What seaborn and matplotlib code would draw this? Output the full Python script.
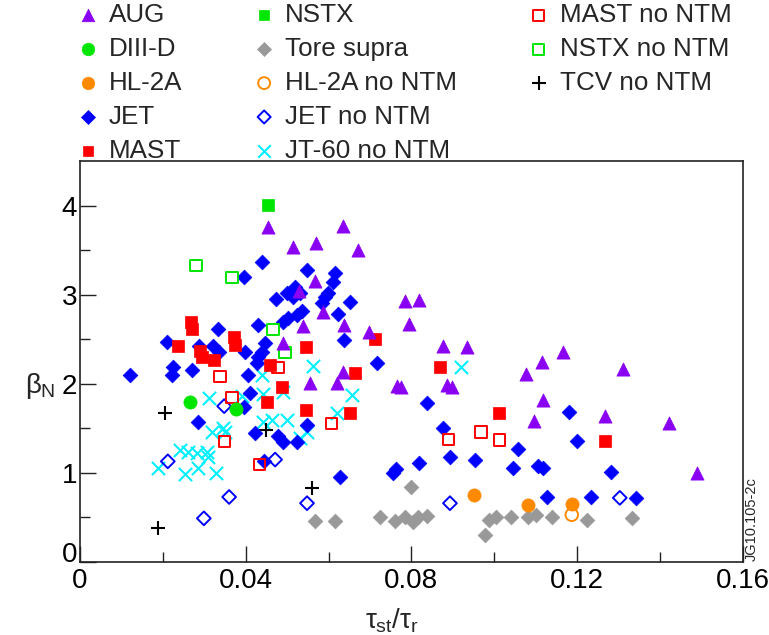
import matplotlib
matplotlib.use('Agg')
import matplotlib.pyplot as plt
from matplotlib.lines import Line2D
import matplotlib.transforms as mtransforms
import seaborn as sns

# データ
aug_x = [0.0454, 0.0635, 0.0514, 0.0569, 0.0671, 0.0567, 0.0528, 0.0586, 0.0538, 0.0637,
         0.0697, 0.0490, 0.0784, 0.0818, 0.0794, 0.0876, 0.0934, 0.0635, 0.0555, 0.0620,
         0.0765, 0.0775, 0.0886, 0.0898, 0.1076, 0.1115, 0.1166, 0.1310, 0.1117, 0.1096,
         0.1267, 0.1421, 0.1489]
aug_y = [3.76, 3.77, 3.54, 3.58, 3.50, 3.15, 3.04, 2.81, 2.65, 2.66,
         2.58, 2.46, 2.93, 2.94, 2.67, 2.42, 2.41, 2.13, 2.01, 2.01,
         1.98, 1.96, 1.99, 1.97, 2.11, 2.25, 2.36, 2.17, 1.82, 1.58,
         1.64, 1.56, 1.00]

diiid_x = [0.0265, 0.0376]
diiid_y = [1.80, 1.72]

hl2a_x = [0.0951, 0.1081, 0.1187]
hl2a_y = [0.75, 0.64, 0.65]
hl2a_no_x = [0.1187]
hl2a_no_y = [0.53]

jet_x = [0.0121, 0.0210, 0.0224, 0.0222, 0.0270, 0.0287, 0.0321, 0.0335, 0.0333, 0.0398,
         0.0405, 0.0430, 0.0446, 0.0439, 0.0430, 0.0427, 0.0439, 0.0396, 0.0473, 0.0548,
         0.0615, 0.0610, 0.0500, 0.0519, 0.0514, 0.0531, 0.0591, 0.0584, 0.0598, 0.0652,
         0.0623, 0.0536, 0.0524, 0.0502, 0.0490, 0.0637, 0.0717, 0.0410, 0.0396, 0.0285,
         0.0422, 0.0478, 0.0490, 0.0524, 0.0548, 0.0444, 0.0627, 0.0837, 0.0876, 0.0893,
         0.0818, 0.0763, 0.0755, 0.0953, 0.1045, 0.1057, 0.1105, 0.1117, 0.1180, 0.1200,
         0.1281, 0.1127, 0.1233, 0.1342]
jet_y = [2.10, 2.47, 2.19, 2.10, 2.16, 2.43, 2.42, 2.36, 2.62, 2.36,
         2.10, 2.66, 2.46, 2.36, 2.30, 2.24, 3.37, 3.20, 2.95, 3.28,
         3.24, 3.14, 3.02, 3.09, 2.98, 3.02, 2.98, 2.91, 3.02, 2.92,
         2.79, 2.82, 2.77, 2.74, 2.69, 2.49, 2.24, 1.90, 1.74, 1.57,
         1.45, 1.42, 1.35, 1.35, 1.54, 1.13, 0.95, 1.79, 1.50, 1.18,
         1.11, 1.04, 1.00, 1.15, 1.05, 1.27, 1.08, 1.05, 1.68, 1.36,
         1.01, 0.73, 0.73, 0.72]

jet_no_x = [0.0348, 0.0471, 0.0212, 0.0360, 0.0299, 0.0548, 0.0893, 0.1303]
jet_no_y = [1.75, 1.15, 1.13, 0.73, 0.49, 0.66, 0.66, 0.72]

mast_x = [0.0268, 0.0270, 0.0236, 0.0372, 0.0374, 0.0290, 0.0294, 0.0323, 0.0458, 0.0712,
          0.0545, 0.0664, 0.0487, 0.0451, 0.0545, 0.0652, 0.0869, 0.1011, 0.1267]
mast_y = [2.69, 2.62, 2.42, 2.53, 2.44, 2.37, 2.30, 2.27, 2.21, 2.50,
          2.41, 2.12, 1.96, 1.80, 1.71, 1.67, 2.19, 1.67, 1.36]

mast_no_x = [0.0338, 0.0478, 0.0367, 0.0348, 0.0434, 0.0608, 0.0890, 0.0968, 0.1013]
mast_no_y = [2.08, 2.18, 1.85, 1.35, 1.09, 1.56, 1.38, 1.46, 1.37]

nstx_x = [0.0454]
nstx_y = [4.01]
nstx_no_x = [0.0280, 0.0367, 0.0466, 0.0495]
nstx_no_y = [3.33, 3.19, 2.61, 2.35]

tore_x = [0.0567, 0.0615, 0.0724, 0.0760, 0.0784, 0.0804, 0.0816, 0.0837, 0.0799, 0.0987,
          0.1004, 0.1040, 0.1081, 0.1100, 0.1139, 0.1224, 0.1332, 0.0977]
tore_y = [0.46, 0.46, 0.51, 0.46, 0.51, 0.45, 0.50, 0.52, 0.84, 0.47,
          0.50, 0.50, 0.50, 0.53, 0.51, 0.47, 0.49, 0.30]

jt60_x = [0.0439, 0.0562, 0.0919, 0.0311, 0.0391, 0.0442, 0.0490, 0.0656, 0.0620, 0.0319,
          0.0345, 0.0350, 0.0442, 0.0463, 0.0500, 0.0548, 0.0531, 0.0241, 0.0261, 0.0282,
          0.0306, 0.0309, 0.0188, 0.0253, 0.0285, 0.0328]
jt60_y = [2.10, 2.20, 2.19, 1.84, 1.86, 1.89, 1.91, 1.87, 1.67, 1.46,
          1.50, 1.46, 1.57, 1.59, 1.59, 1.46, 1.39, 1.26, 1.23, 1.22,
          1.23, 1.18, 1.06, 0.99, 1.06, 1.00]

tcv_x = [0.0205, 0.0449, 0.0560, 0.0188]
tcv_y = [1.67, 1.48, 0.83, 0.38]

x_ticks = [0, 0.04, 0.08, 0.12, 0.16]
x_tick_labels = ['0', '0.04', '0.08', '0.12', '0.16']
y_ticks = [0, 1, 2, 3, 4]

# スタイル設定
sns.set_style('ticks')
plt.rcParams['font.family'] = ['Liberation Sans', 'DejaVu Sans']
plt.rcParams['mathtext.fontset'] = 'custom'
plt.rcParams['mathtext.rm'] = 'Liberation Sans'
plt.rcParams['mathtext.it'] = 'Liberation Sans'
plt.rcParams['mathtext.bf'] = 'Liberation Sans:bold'

fig = plt.figure(figsize=(7.69, 6.35), dpi=100)
ax = fig.add_axes([0.104, 0.115, 0.862, 0.631])

PURPLE = '#8a00f2'
GREEN = '#00e600'
ORANGE = '#ff8a00'
BLUE = '#0000ff'
RED = '#ff0000'
GRAY = '#999999'
CYAN = '#00f0ff'

# (label, x, y, marker, size, color, filled)
series = [
    ('AUG', aug_x, aug_y, '^', 9.5, PURPLE, True),
    ('DIII-D', diiid_x, diiid_y, 'o', 9.5, GREEN, True),
    ('HL-2A', hl2a_x, hl2a_y, 'o', 9.5, ORANGE, True),
    ('JET', jet_x, jet_y, 'D', 7.5, BLUE, True),
    ('MAST', mast_x, mast_y, 's', 8.0, RED, True),
    ('NSTX', nstx_x, nstx_y, 's', 8.0, GREEN, True),
    ('Tore supra', tore_x, tore_y, 'D', 7.5, GRAY, True),
    ('HL-2A no NTM', hl2a_no_x, hl2a_no_y, 'o', 9.0, ORANGE, False),
    ('JET no NTM', jet_no_x, jet_no_y, 'D', 7.0, BLUE, False),
    ('JT-60 no NTM', jt60_x, jt60_y, 'x', 9.5, CYAN, None),
    ('MAST no NTM', mast_no_x, mast_no_y, 's', 8.0, RED, False),
    ('NSTX no NTM', nstx_no_x, nstx_no_y, 's', 8.0, GREEN, False),
    ('TCV no NTM', tcv_x, tcv_y, '+', 10.0, 'black', None),
]

# 描画順（AUGは上に重ねる）
draw_order = ['Tore supra', 'JT-60 no NTM', 'TCV no NTM', 'JET no NTM', 'JET',
              'MAST no NTM', 'MAST', 'HL-2A no NTM', 'HL-2A', 'DIII-D',
              'NSTX no NTM', 'NSTX', 'AUG']
handles = {}
spec = {s[0]: s for s in series}
for name in draw_order:
    label, xs, ys, m, ms, c, filled = spec[name]
    if filled is True:
        kw = dict(color=c, edgecolor=c, linewidth=0.5)
    elif filled is False:
        kw = dict(color=c, facecolors='none', edgecolor=c, linewidth=1.4)
    else:
        kw = dict(color=c, linewidth=1.5)
    sns.scatterplot(x=xs, y=ys, marker=m, s=ms ** 2, ax=ax, label=label,
                    legend=False, zorder=3, **kw)
    handles[label] = ax.collections[-1]

ax.set_xlim(0, 0.16)
ax.set_ylim(0, 4.5)
ax.set_xticks(x_ticks)
ax.set_xticklabels(x_tick_labels)
ax.set_yticks(y_ticks)
ax.set_xticks([0.02, 0.06, 0.10, 0.14], minor=True)
ax.set_yticks([0.5, 1.5, 2.5, 3.5], minor=True)
ax.tick_params(which='both', direction='in', top=False, right=False,
               width=1.0, color='#222222', labelsize=20, labelcolor='black')
ax.tick_params(which='major', length=11.5)
ax.tick_params(which='minor', length=7)
ax.tick_params(axis='y', pad=2)
ax.tick_params(axis='x', pad=4)
for sp in ax.spines.values():
    sp.set_linewidth(1.2)
    sp.set_color('#222222')

# y軸の「0」を少し上にずらす（x軸の「0」と重ならないように）
ylab0 = ax.get_yticklabels()[0]
ylab0.set_transform(ylab0.get_transform() +
                    mtransforms.ScaledTranslation(0, 7 / 72, fig.dpi_scale_trans))

ax.set_xlabel(r'$\tau_{st}/\tau_r$', fontsize=20)
ax.xaxis.set_label_coords(0.47, -0.11)
ax.set_ylabel(r'$\beta_N$', fontsize=20, rotation=0, va='center', ha='center')
ax.yaxis.set_label_coords(-0.06, 0.44)

# 凡例（5, 5, 3 の列構成）
legend_order = [s[0] for s in series]
leg_handles = [handles[n] for n in legend_order]
leg_labels = list(legend_order)
for _ in range(2):
    leg_handles.append(Line2D([], [], linestyle='none'))
    leg_labels.append('')
fig.legend(leg_handles, leg_labels, ncol=3,
           loc='upper left', bbox_to_anchor=(0.101, 0.995), frameon=False,
           fontsize=18.7, borderpad=0, borderaxespad=0, handlelength=0.8,
           handletextpad=0.4, columnspacing=2.75, labelspacing=0.38,
           markerscale=0.95)

fig.text(0.978, 0.117, 'JG10.105-2c', rotation=90, ha='center', va='bottom',
         fontsize=10.5)

fig.savefig('out.png', dpi=100)
